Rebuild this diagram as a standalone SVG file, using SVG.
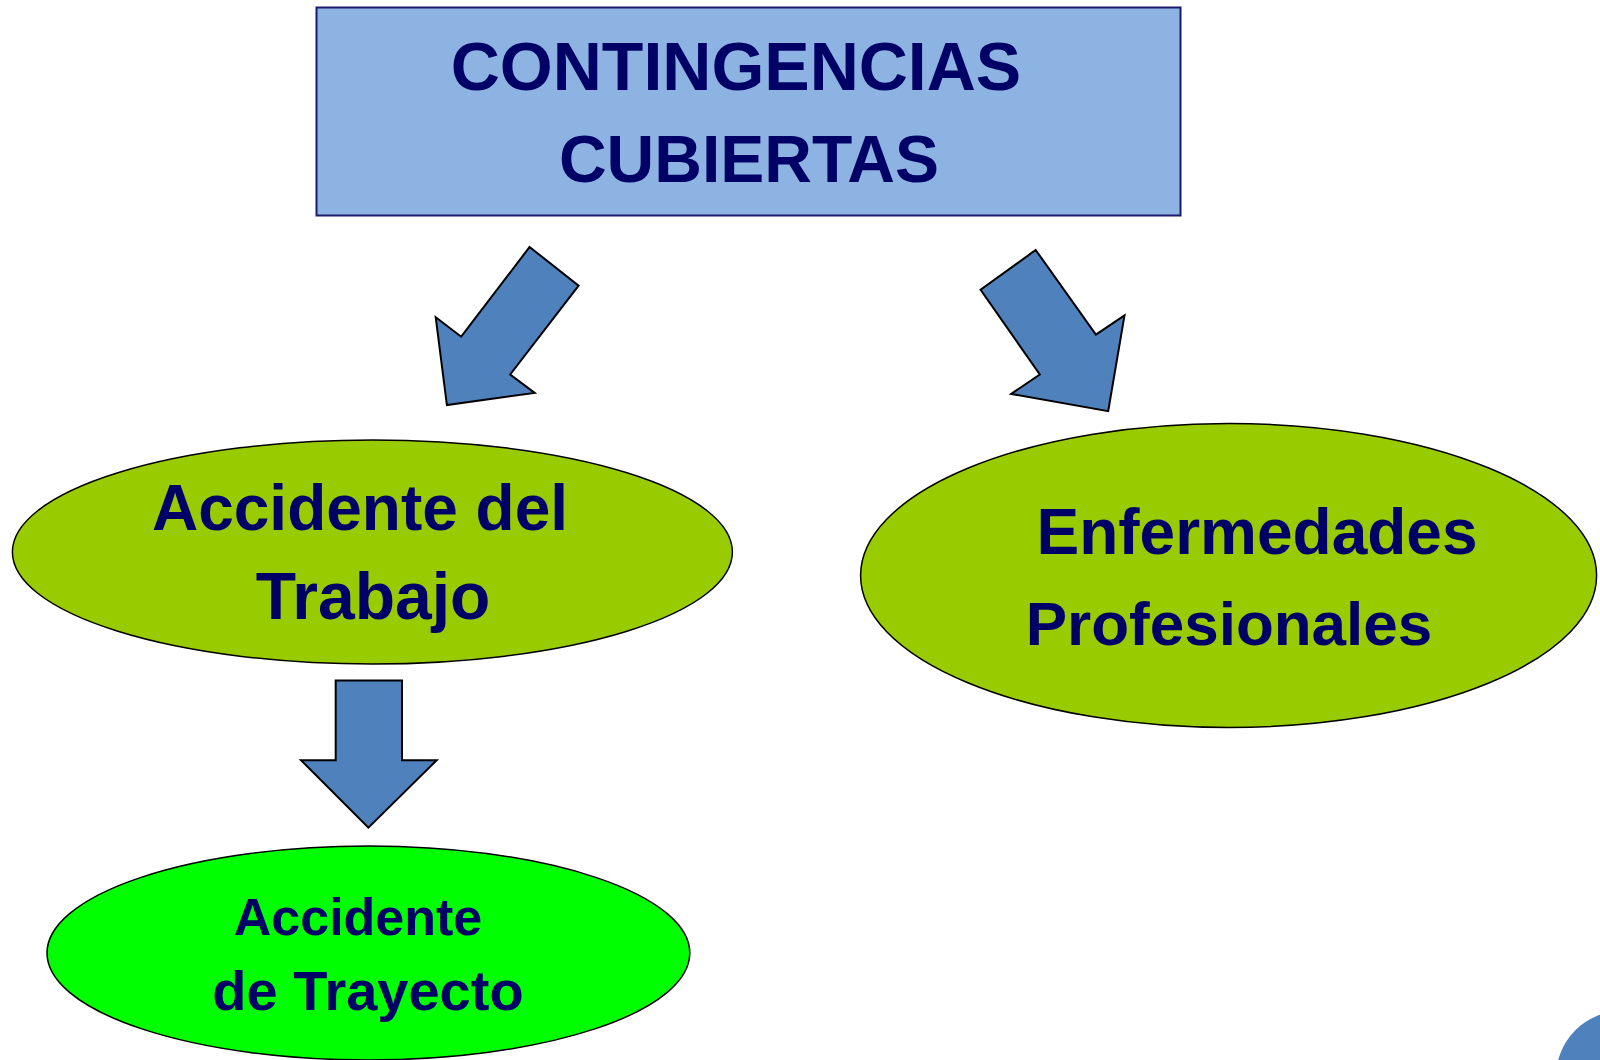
<svg xmlns="http://www.w3.org/2000/svg" width="1600" height="1060" viewBox="0 0 1600 1060">
<style>
.t{font-family:"Liberation Sans",Arial,sans-serif;font-weight:bold;fill:#000066;text-anchor:middle}
.arr{fill:#4F81BD;stroke:#000;stroke-width:2;stroke-linejoin:miter}
.ell{stroke:#000;stroke-width:1.5}
</style>
<rect width="1600" height="1060" fill="#fff"/>
<g id="contingencias">
<rect x="316.5" y="7.5" width="864" height="208" fill="#8DB3E2" stroke="#1A1A6E" stroke-width="2"/>
<text class="t" x="736" y="90" font-size="68">CONTINGENCIAS</text>
<text class="t" x="749" y="182" font-size="66">CUBIERTAS</text>
</g>
<g id="connectors">
<polygon class="arr" points="529.6,247 578.6,285.7 510.2,374.5 534.7,392.9 446.9,405.1 435.7,317.3 461.2,336.7"/>
<polygon class="arr" points="1035.7,250 1095.9,334.7 1124.5,315.3 1108.2,411.2 1011.2,393.9 1039.8,374.5 980.6,289.8"/>
<polygon class="arr" points="335.7,680.6 402,680.6 402,760.2 436.7,760.2 368.4,827.6 301,760.2 335.7,760.2"/>
</g>
<g id="accidente-trabajo">
<ellipse class="ell" cx="372.4" cy="552" rx="360" ry="112" fill="#99CC00"/>
<text class="t" x="360" y="530" font-size="64">Accidente del</text>
<text class="t" x="373" y="619" font-size="66">Trabajo</text>
</g>
<g id="enfermedades">
<ellipse class="ell" cx="1228.6" cy="575.5" rx="368" ry="152" fill="#99CC00"/>
<text class="t" x="1257" y="554" font-size="64">Enfermedades</text>
<text class="t" x="1229" y="645" font-size="62">Profesionales</text>
</g>
<g id="accidente-trayecto">
<ellipse class="ell" cx="368.4" cy="953" rx="321.4" ry="107" fill="#00FF00"/>
<text class="t" x="358" y="935" font-size="52">Accidente</text>
<text class="t" x="368" y="1010" font-size="56">de Trayecto</text>
</g>
<circle cx="1622" cy="1077" r="66" fill="#4F81BD"/>
</svg>
